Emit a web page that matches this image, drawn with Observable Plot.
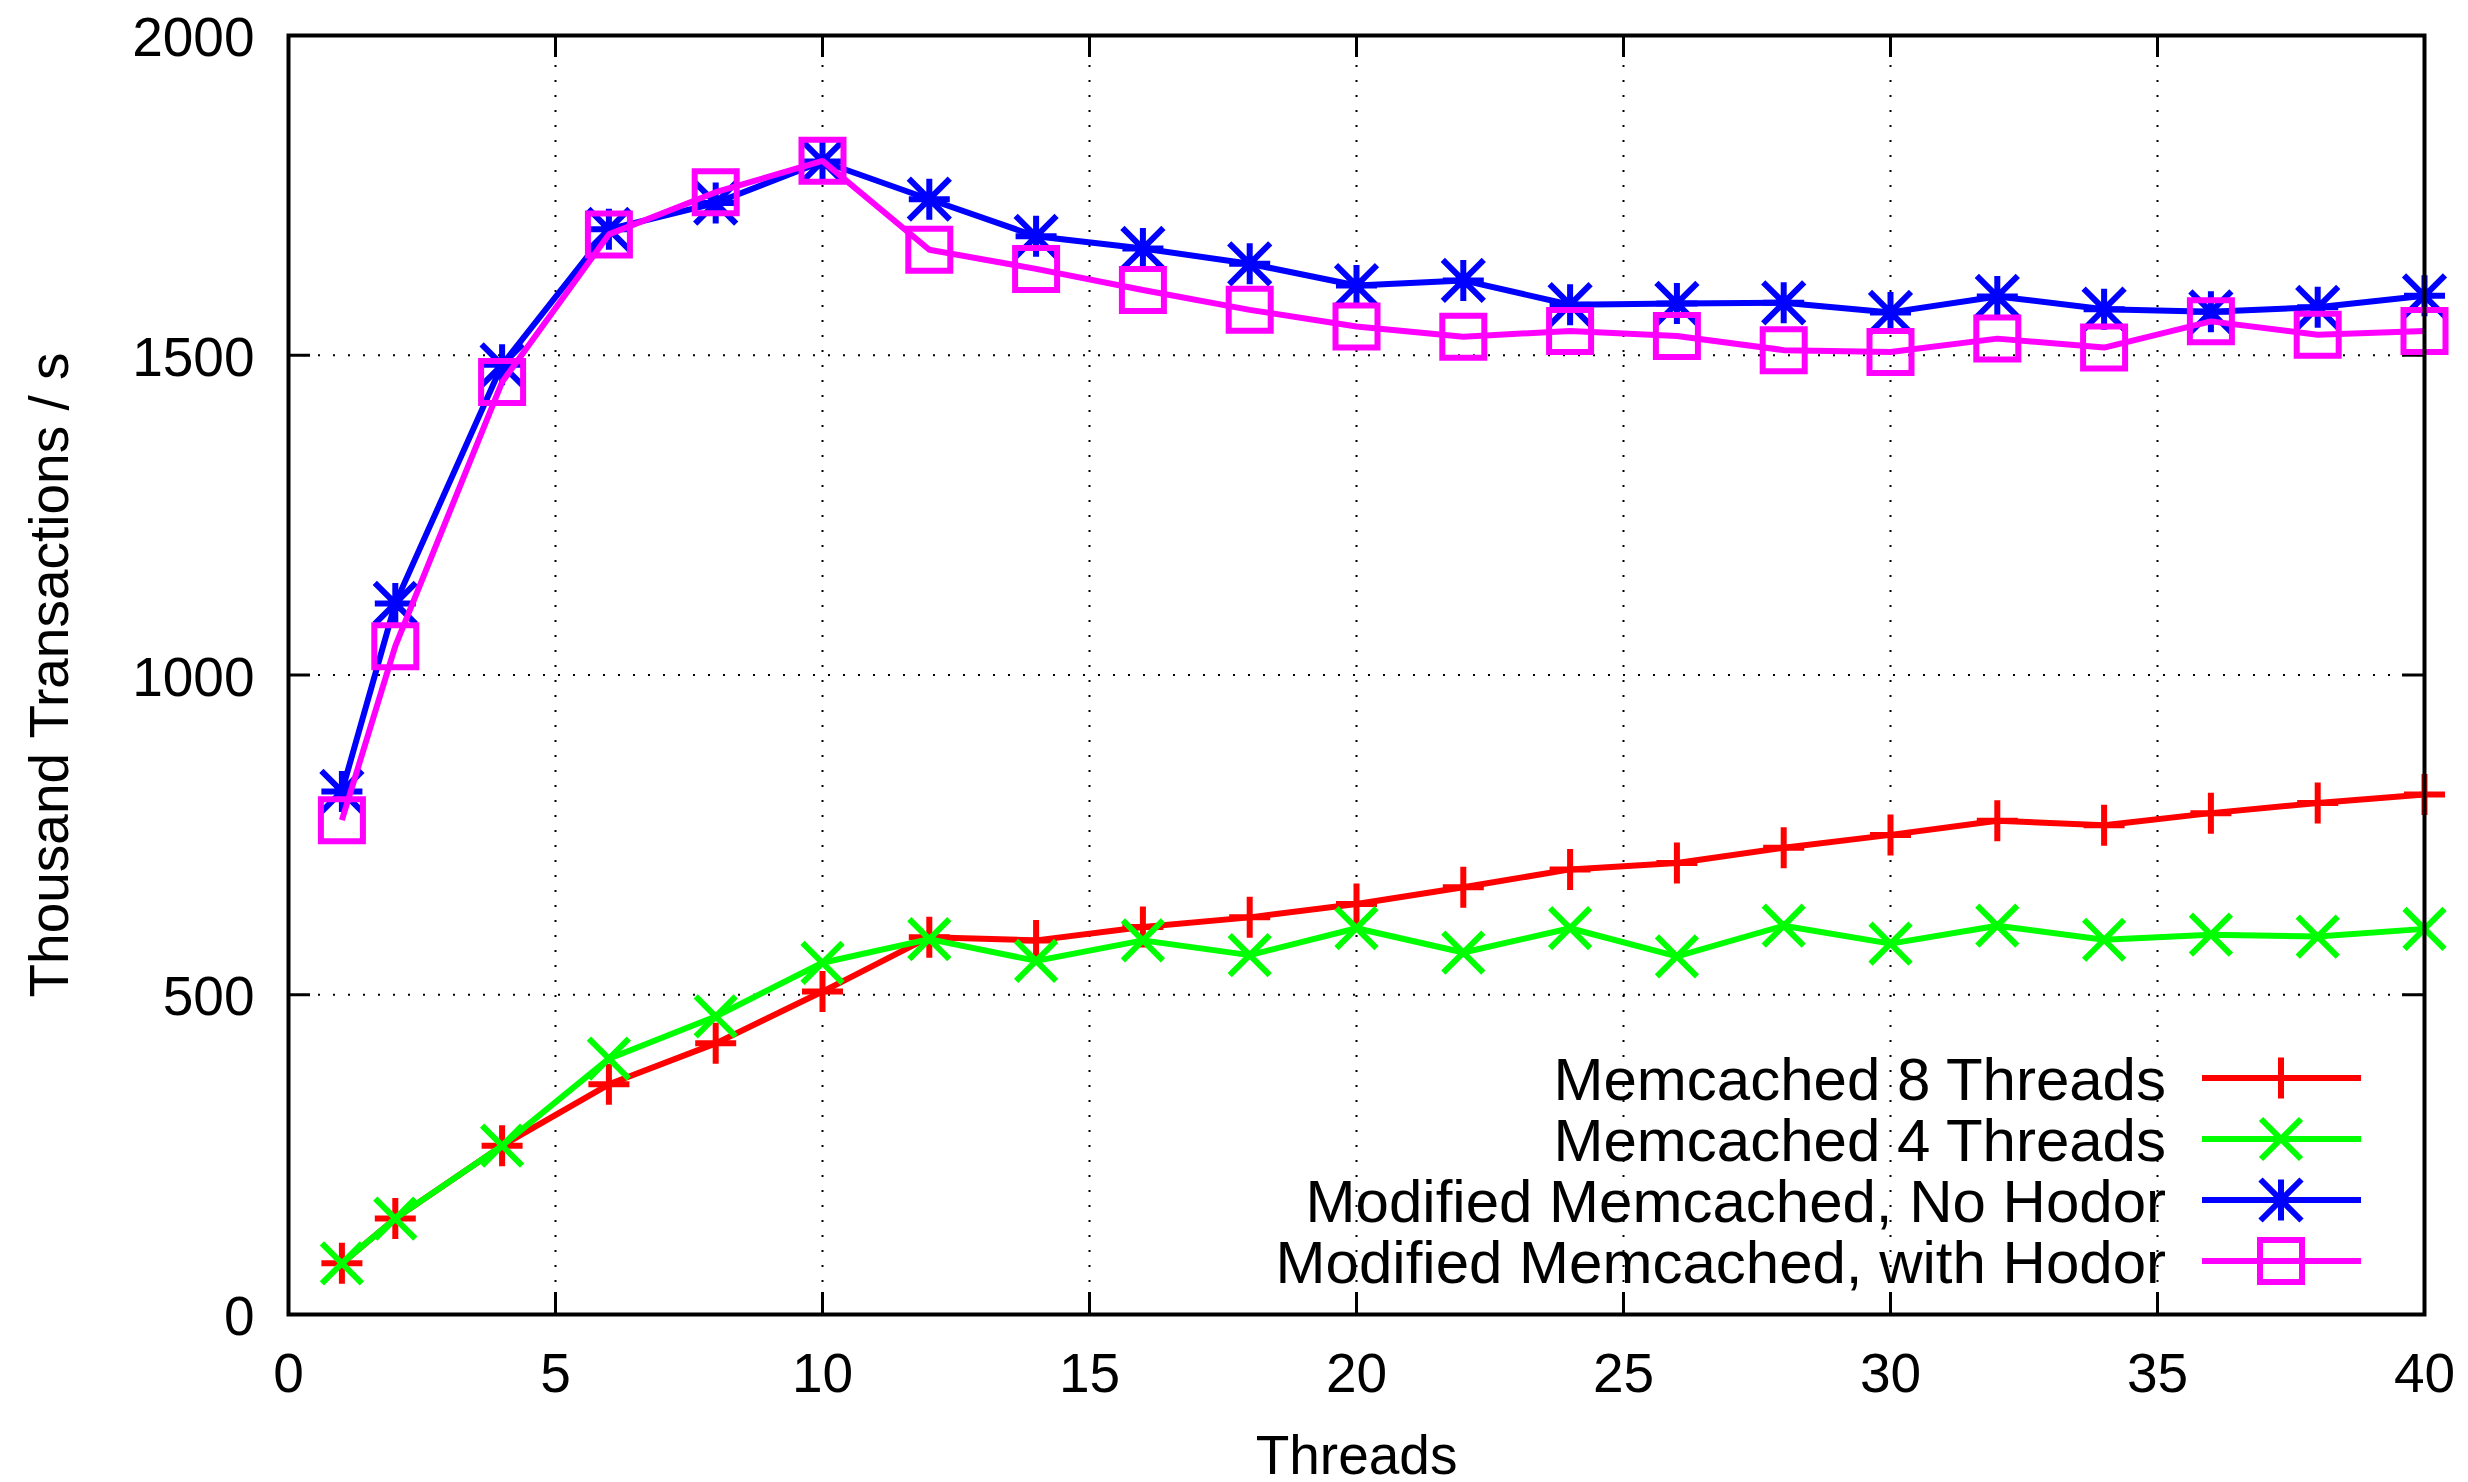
<!DOCTYPE html>
<html>
<head>
<meta charset="utf-8">
<script src="https://cdn.jsdelivr.net/npm/d3@7"></script>
<script src="https://cdn.jsdelivr.net/npm/@observablehq/plot@0.6"></script>
<style>
  html, body { margin: 0; padding: 0; background: white; }
  #chart svg { display: block; }
</style>
</head>
<body>
<div id="chart"></div>
<script>
// ---- data ----
const threads = [1, 2, 4, 6, 8, 10, 12, 14, 16, 18, 20, 22, 24, 26, 28, 30, 32, 34, 36, 38, 40];
const memcached8 = [80, 150, 264, 360, 424, 505, 590, 585, 606, 621, 642, 668, 696, 706, 730, 750, 772, 765, 784, 800, 813];
const memcached4 = [80, 150, 264, 400, 466, 550, 587, 553, 585, 562, 604, 566, 604, 560, 608, 580, 608, 586, 594, 591, 603];
const modNoHodor = [818, 1112, 1485, 1697, 1738, 1803, 1744, 1686, 1667, 1643, 1609, 1617, 1579, 1581, 1582, 1567, 1592, 1572, 1568, 1575, 1593];
const modHodor = [773, 1045, 1458, 1689, 1755, 1804, 1665, 1635, 1602, 1571, 1545, 1529, 1538, 1530, 1508, 1505, 1526, 1512, 1553, 1532, 1538];
const seriesNames = ["Memcached 8 Threads", "Memcached 4 Threads", "Modified Memcached, No Hodor", "Modified Memcached, with Hodor"];
const seriesColors = ["#ff0000", "#00ff00", "#0000ff", "#ff00ff"];
const seriesSymbols = ["plus", "times", "star", "square"];
const xTicks = [0, 5, 10, 15, 20, 25, 30, 35, 40];
const yTicks = [0, 500, 1000, 1500, 2000];
const xLabel = "Threads";
const yLabel = "Thousand Transactions / s";

// ---- gnuplot-like point symbols (half size = r) ----
function half(size) { return Math.sqrt(size / Math.PI); }
const symPlus = { draw(c, s) { const h = half(s); c.moveTo(-h, 0); c.lineTo(h, 0); c.moveTo(0, -h); c.lineTo(0, h); } };
const symTimes = { draw(c, s) { const h = half(s); c.moveTo(-h, -h); c.lineTo(h, h); c.moveTo(-h, h); c.lineTo(h, -h); } };
const symStar = { draw(c, s) { symPlus.draw(c, s); symTimes.draw(c, s); } };
const symSquare = { draw(c, s) { const h = half(s); c.moveTo(-h, -h); c.lineTo(h, -h); c.lineTo(h, h); c.lineTo(-h, h); c.closePath(); } };
const symbolMap = { plus: symPlus, times: symTimes, star: symStar, square: symSquare };
const symbolR = { plus: 20.5, times: 20, star: 20.5, square: 21 };

const allValues = [memcached8, memcached4, modNoHodor, modHodor];
const series = seriesNames.map((name, i) => ({
  name, color: seriesColors[i], symbol: seriesSymbols[i],
  data: threads.map((t, j) => ({ threads: t, value: allValues[i][j] }))
}));

// ---- layout ----
const W = 2468, H = 1482;
const mL = 288, mR = 44, mT = 35, mB = 168;
const frameW = W - mL - mR, frameH = H - mT - mB;
const tickLen = 22;
const lineW = 6;

const seriesMarks = series.flatMap(s => [
  Plot.line(s.data, { x: "threads", y: "value", stroke: s.color, strokeWidth: lineW, strokeLinejoin: "miter", strokeLinecap: "butt" }),
  Plot.dot(s.data, { x: "threads", y: "value", stroke: s.color, fill: "none", strokeWidth: lineW, r: symbolR[s.symbol], symbol: symbolMap[s.symbol], strokeLinecap: "butt" })
]);

const grid = { stroke: "black", strokeOpacity: 1, strokeWidth: 2, strokeDasharray: "2,13" };
const fmt = d => String(d);

const plot = Plot.plot({
  width: W, height: H,
  marginLeft: mL, marginRight: mR, marginTop: mT, marginBottom: mB,
  style: { fontFamily: "'Liberation Sans', Arial, Helvetica, sans-serif", fontSize: "55px", color: "black", background: "white", overflow: "visible" },
  x: { domain: [0, 40], label: null },
  y: { domain: [0, 2000], label: null },
  marks: [
    Plot.gridX(xTicks.slice(1, -1), grid),
    Plot.gridY(yTicks.slice(1, -1), grid),
    // inward ticks on all four sides
    Plot.ruleX(xTicks, { x: d => d, insetTop: frameH - tickLen, stroke: "black", strokeWidth: 3 }),
    Plot.ruleX(xTicks, { x: d => d, insetBottom: frameH - tickLen, stroke: "black", strokeWidth: 3 }),
    Plot.ruleY(yTicks, { y: d => d, insetRight: frameW - tickLen, stroke: "black", strokeWidth: 3 }),
    Plot.ruleY(yTicks, { y: d => d, insetLeft: frameW - tickLen, stroke: "black", strokeWidth: 3 }),
    ...seriesMarks,
    Plot.frame({ stroke: "black", strokeWidth: 4 }),
    Plot.axisX({ ticks: xTicks, tickFormat: fmt, tickSize: 0, tickPadding: 38, fontSize: 55, label: null, fill: "black" }),
    Plot.axisY({ ticks: yTicks, tickFormat: fmt, tickSize: 0, tickPadding: 34, fontSize: 55, label: null, fill: "black", dy: 3 }),
    Plot.text([xLabel], { text: d => d, frameAnchor: "bottom", dy: 142, fontSize: 55, fill: "black", textAnchor: "middle", lineAnchor: "middle" }),
    Plot.text([yLabel], { text: d => d, frameAnchor: "left", dx: -238, rotate: -90, fontSize: 55, fill: "black", textAnchor: "middle", lineAnchor: "middle" })
  ]
});

// ---- legend inside the frame, bottom right ----
const svg = d3.select(plot);
const right = W - mR, bottom = H - mB;
const rowOffsets = [-236, -175, -114, -53];
const lg = svg.append("g").attr("class", "legend");
series.forEach((s, i) => {
  const y = bottom + rowOffsets[i];
  lg.append("text")
    .attr("x", right - 258).attr("y", y + 21.5)
    .attr("text-anchor", "end")
    .attr("font-size", 60)
    .attr("fill", "black")
    .text(s.name);
  lg.append("line")
    .attr("x1", right - 222).attr("x2", right - 63)
    .attr("y1", y).attr("y2", y)
    .attr("stroke", s.color).attr("stroke-width", lineW);
  const r = symbolR[s.symbol];
  lg.append("path")
    .attr("transform", `translate(${right - 143},${y})`)
    .attr("d", d3.symbol(symbolMap[s.symbol], Math.PI * r * r)())
    .attr("fill", "none").attr("stroke", s.color).attr("stroke-width", lineW);
});

document.getElementById("chart").appendChild(plot);
</script>
</body>
</html>
